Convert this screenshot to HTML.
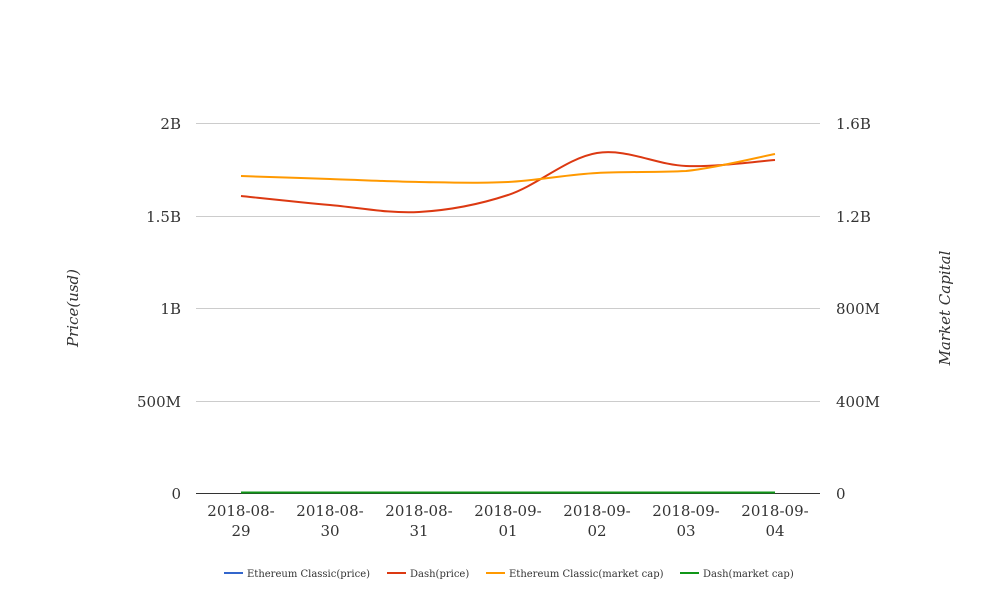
<!DOCTYPE html>
<html><head><meta charset="utf-8"><style>
html,body{margin:0;padding:0;background:#fff;width:1008px;height:616px;overflow:hidden}
text{font-family:"DejaVu Serif","Liberation Serif",serif;fill:#333}
</style></head><body>
<svg width="1008" height="616" xmlns="http://www.w3.org/2000/svg">
<g stroke="#ccc" stroke-width="1">
<line x1="196" y1="123.5" x2="820" y2="123.5"/>
<line x1="196" y1="216.5" x2="820" y2="216.5"/>
<line x1="196" y1="308.5" x2="820" y2="308.5"/>
<line x1="196" y1="401.5" x2="820" y2="401.5"/>
</g>
<line x1="196" y1="493.5" x2="820" y2="493.5" stroke="#333" stroke-width="1"/>
<g font-size="15" text-anchor="end">
<text x="181" y="129">2B</text>
<text x="181" y="222">1.5B</text>
<text x="181" y="314">1B</text>
<text x="181" y="407">500M</text>
<text x="181" y="499">0</text>
</g>
<g font-size="15" text-anchor="start">
<text x="836" y="129">1.6B</text>
<text x="836" y="222">1.2B</text>
<text x="836" y="314">800M</text>
<text x="836" y="407">400M</text>
<text x="836" y="499">0</text>
</g>
<g font-size="15" text-anchor="middle">
<text x="241" y="516">2018-08-</text><text x="241" y="536">29</text>
<text x="330" y="516">2018-08-</text><text x="330" y="536">30</text>
<text x="419" y="516">2018-08-</text><text x="419" y="536">31</text>
<text x="508" y="516">2018-09-</text><text x="508" y="536">01</text>
<text x="597" y="516">2018-09-</text><text x="597" y="536">02</text>
<text x="686" y="516">2018-09-</text><text x="686" y="536">03</text>
<text x="775" y="516">2018-09-</text><text x="775" y="536">04</text>
</g>
<text x="78" y="308" font-size="15" font-style="italic" text-anchor="middle" transform="rotate(-90 78 308)">Price(usd)</text>
<text x="950" y="308" font-size="15" font-style="italic" text-anchor="middle" transform="rotate(-90 950 308)">Market Capital</text>
<line x1="241" y1="492.5" x2="775" y2="492.5" stroke="#3366cc" stroke-width="2"/>
<line x1="241" y1="492.5" x2="775" y2="492.5" stroke="#109618" stroke-width="2"/>
<path fill="none" stroke="#dc3912" stroke-width="2" d="M241,196 C255.8,197.5 300.3,202.3 330,205 C359.7,207.7 389.3,213.7 419,212 C448.7,210.3 478.3,204.8 508,195 C537.7,185.2 567.3,157.8 597,153 C626.7,148.2 656.3,164.8 686,166 C715.7,167.2 760.2,161 775,160"/>
<path fill="none" stroke="#ff9900" stroke-width="2" d="M241,176 C255.8,176.5 300.3,178 330,179 C359.7,180 389.3,181.5 419,182 C448.7,182.5 478.3,183.5 508,182 C537.7,180.5 567.3,174.5 597,173 C626.7,171.5 656.3,172.5 686,171 C715.7,168 760.2,156.8 775,154"/>
<g font-size="10">
<line x1="224" y1="573" x2="243" y2="573" stroke="#3366cc" stroke-width="2"/>
<text x="247" y="577">Ethereum Classic(price)</text>
<line x1="387" y1="573" x2="406" y2="573" stroke="#dc3912" stroke-width="2"/>
<text x="410" y="577">Dash(price)</text>
<line x1="486" y1="573" x2="505" y2="573" stroke="#ff9900" stroke-width="2"/>
<text x="509" y="577">Ethereum Classic(market cap)</text>
<line x1="680" y1="573" x2="699" y2="573" stroke="#109618" stroke-width="2"/>
<text x="703" y="577">Dash(market cap)</text>
</g>
</svg>
</body></html>
